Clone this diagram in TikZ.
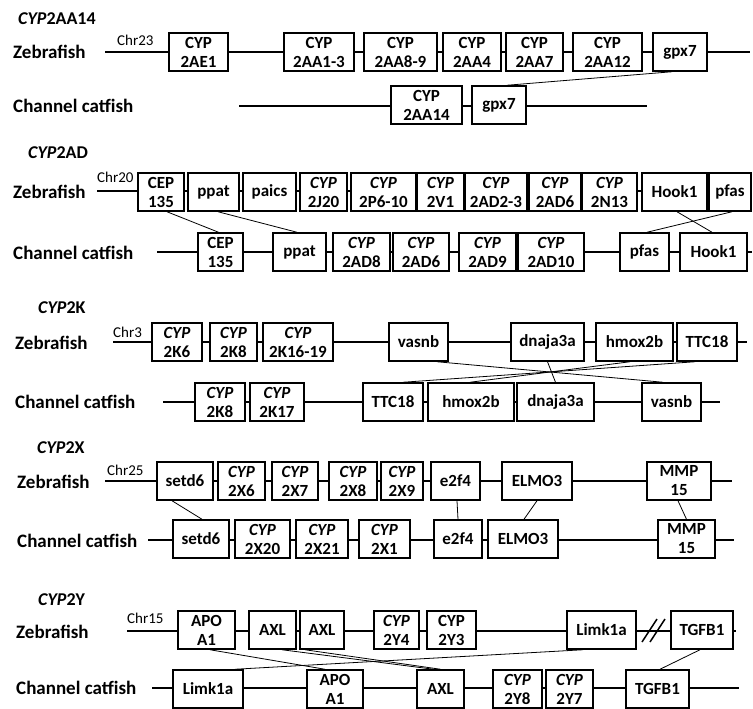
\documentclass[tikz,border=0pt]{standalone}
\usepackage{fontspec}
\setmainfont{Carlito}
\newcommand\cy{\textit{CYP}}
\newcommand\gn[5]{\pgfmathsetmacro\gnw{#3-#2}\pgfmathsetmacro\gnx{(#2+#3)/2}\node[gene,minimum width=\gnw pt] (#1) at (\gnx,#4) {#5};}
\tikzset{
  gene/.style={draw, line width=1.5pt, fill=white, minimum height=38pt, inner sep=0pt, align=center, font=\bfseries\fontsize{17}{19}\selectfont},
  chrom/.style={line width=2.6pt},
  link/.style={line width=0.8pt},
  lab/.style={anchor=west, inner sep=0pt, font=\bfseries\fontsize{19}{22}\selectfont},
  ttl/.style={anchor=west, inner sep=0pt, font=\bfseries\fontsize{18}{21}\selectfont},
  chr/.style={anchor=west, inner sep=0pt, font=\fontsize{15}{18}\selectfont},
  brk/.style={line width=1.5pt}
}
\begin{document}
\begin{tikzpicture}[x=1pt,y=-1pt]
\useasboundingbox (0,0) rectangle (753,709);
% ---------- CYP2AA14 ----------
\node[ttl] (t1) at (18,19) {\textit{CYP}2AA14};
\node[lab] (lz1) at (13,52) {Zebrafish};
\node[lab] (lc1) at (13,106) {Channel catfish};
\node[chr] (chr1) at (117,40) {Chr23};
\coordinate (z1s) at (105,52); \coordinate (z1e) at (750,52);
\coordinate (c1s) at (239,106); \coordinate (c1e) at (647,106);
\draw[chrom] (z1s) -- (z1e);
\draw[chrom] (c1s) -- (c1e);
\gn{zA1}{169}{228}{52}{CYP\\2AE1}
\gn{zA2}{284}{354}{52}{CYP\\2AA1-3}
\gn{zA3}{364}{437}{52}{CYP\\2AA8-9}
\gn{zA4}{443}{501}{52}{CYP\\2AA4}
\gn{zA5}{506}{563}{52}{CYP\\2AA7}
\gn{zA6}{573}{642}{52}{CYP\\2AA12}
\gn{zA7}{653}{707}{52}{gpx7}
\gn{cA1}{391}{462}{105}{CYP\\2AA14}
\gn{cA2}{472}{526}{105}{gpx7}
\draw[link] ([xshift=-8pt]zA7.south) -- ([xshift=8pt]cA2.north);
% ---------- CYP2AD ----------
\node[ttl] (t2) at (28,153) {\textit{CYP}2AD};
\node[lab] (lz2) at (13,192) {Zebrafish};
\node[lab] (lc2) at (13,253) {Channel catfish};
\node[chr] (chr2) at (97,177) {Chr20};
\coordinate (z2s) at (97,191); \coordinate (z2e) at (752,191);
\coordinate (c2s) at (157,252); \coordinate (c2e) at (752,252);
\draw[chrom] (z2s) -- (z2e);
\draw[chrom] (c2s) -- (c2e);
\gn{zB1}{138}{184}{192}{CEP\\135}
\gn{zB2}{188}{239}{192}{ppat}
\gn{zB3}{243}{296}{192}{paics}
\gn{zB4}{300}{347}{192}{\cy\\2J20}
\gn{zB5}{351}{416}{192}{\cy\\2P6-10}
\gn{zB6}{417}{464}{192}{\cy\\2V1}
\gn{zB7}{465}{527}{192}{\cy\\2AD2-3}
\gn{zB8}{529}{581}{192}{\cy\\2AD6}
\gn{zB9}{582}{637}{192}{\cy\\2N13}
\gn{zB10}{642}{707}{192}{Hook1}
\gn{zB11}{709}{751}{192}{pfas}
\gn{cB1}{198}{243}{252}{CEP\\135}
\gn{cB2}{273}{326}{252}{ppat}
\gn{cB3}{333}{390}{252}{\cy\\2AD8}
\gn{cB4}{393}{449}{252}{\cy\\2AD6}
\gn{cB5}{459}{516}{252}{\cy\\2AD9}
\gn{cB6}{518}{584}{252}{\cy\\2AD10}
\gn{cB7}{620}{669}{252}{pfas}
\gn{cB8}{680}{747}{252}{Hook1}
\draw[link] ([xshift=6pt]zB1.south) -- ([xshift=-2pt]cB1.north);
\draw[link] ([xshift=4.5pt]zB2.south) -- ([xshift=-2.5pt]cB2.north);
\draw[link] ([xshift=2.5pt]zB10.south) -- ([xshift=-1.5pt]cB8.north);
\draw[link] ([xshift=2pt]zB11.south) -- ([xshift=2.5pt]cB7.north);
% ---------- CYP2K ----------
\node[ttl] (t3) at (38,308) {\textit{CYP}2K};
\node[lab] (lz3) at (15,343) {Zebrafish};
\node[lab] (lc3) at (15,402) {Channel catfish};
\node[chr] (chr3) at (113,332) {Chr3};
\coordinate (z3s) at (113,342); \coordinate (z3e) at (747,342);
\coordinate (c3s) at (163,402); \coordinate (c3e) at (720,402);
\draw[chrom] (z3s) -- (z3e);
\draw[chrom] (c3s) -- (c3e);
\gn{zC1}{152}{202}{342}{\cy\\2K6}
\gn{zC2}{210}{257}{342}{\cy\\2K8}
\gn{zC3}{263}{333}{342}{\cy\\2K16-19}
\gn{zC4}{389}{448}{342}{vasnb}
\gn{zC5}{511}{584}{342}{dnaja3a}
\gn{zC6}{596}{673}{342}{hmox2b}
\gn{zC7}{677}{737}{342}{TTC18}
\gn{cC1}{195}{245}{402}{\cy\\2K8}
\gn{cC2}{250}{304}{402}{\cy\\2K17}
\gn{cC3}{363}{423}{402}{TTC18}
\gn{cC4}{428}{514}{402}{hmox2b}
\gn{cC5}{517}{594}{402}{dnaja3a}
\gn{cC6}{642}{701}{402}{vasnb}
\draw[link] ([xshift=18.5pt]zC4.south) -- ([xshift=-8.5pt]cC6.north);
\draw[link] (zC5.south) -- (cC5.north);
\draw[link] ([xshift=-4.5pt]zC6.south) -- ([xshift=-1pt]cC4.north);
\draw[link] ([xshift=-12pt]zC7.south) -- ([xshift=10pt]cC3.north);
% ---------- CYP2X ----------
\node[ttl] (t4) at (37,448) {\textit{CYP}2X};
\node[lab] (lz4) at (17,482) {Zebrafish};
\node[lab] (lc4) at (17,541) {Channel catfish};
\node[chr] (chr4) at (107,470) {Chr25};
\coordinate (z4s) at (105,481); \coordinate (z4e) at (732,481);
\coordinate (c4s) at (148,540); \coordinate (c4e) at (734,540);
\draw[chrom] (z4s) -- (z4e);
\draw[chrom] (c4s) -- (c4e);
\gn{zD1}{157}{213}{481}{setd6}
\gn{zD2}{218}{265}{481}{\cy\\2X6}
\gn{zD3}{272}{318}{481}{\cy\\2X7}
\gn{zD4}{329}{377}{481}{\cy\\2X8}
\gn{zD5}{381}{423}{481}{\cy\\2X9}
\gn{zD6}{431}{480}{481}{e2f4}
\gn{zD7}{502}{572}{481}{ELMO3}
\gn{zD8}{647}{711}{481}{MMP\\15}
\gn{cD1}{173}{229}{539}{setd6}
\gn{cD2}{235}{290}{539}{\cy\\2X20}
\gn{cD3}{296}{348}{539}{\cy\\2X21}
\gn{cD4}{359}{410}{539}{\cy\\2X1}
\gn{cD5}{434}{482}{539}{e2f4}
\gn{cD6}{488}{558}{539}{ELMO3}
\gn{cD7}{658}{715}{539}{MMP\\15}
\draw[link] ([xshift=-13pt]zD1.south) -- ([xshift=1pt]cD1.north);
\draw[link] ([xshift=1.5pt]zD6.south) -- (cD5.north);
\draw[link] (zD7.south) -- ([xshift=1pt]cD6.north);
\draw[link] ([xshift=-1pt]zD8.south) -- (cD7.north);
% ---------- CYP2Y ----------
\node[ttl] (t5) at (38,600) {\textit{CYP}2Y};
\node[lab] (lz5) at (16,632) {Zebrafish};
\node[lab] (lc5) at (16,688) {Channel catfish};
\node[chr] (chr5) at (127,618) {Chr15};
\coordinate (z5s) at (127,631); \coordinate (z5e) at (736,631);
\coordinate (c5s) at (152,688); \coordinate (c5e) at (739,688);
\draw[chrom] (z5s) -- (z5e);
\draw[chrom] (c5s) -- (c5e);
\draw[brk] (642,642) -- (657,619);
\draw[brk] (650,642) -- (665,619);
\gn{zE1}{178}{235}{630}{APO\\A1}
\gn{zE2}{249}{296}{630}{AXL}
\gn{zE3}{300}{344}{630}{AXL}
\gn{zE4}{374}{419}{630}{\cy\\2Y4}
\gn{zE5}{427}{476}{630}{CYP\\2Y3}
\gn{zE6}{567}{636}{630}{Limk1a}
\gn{zE7}{671}{733}{630}{TGFB1}
\gn{cE1}{173}{243}{689}{Limk1a}
\gn{cE2}{307}{363}{689}{APO\\A1}
\gn{cE3}{417}{464}{689}{AXL}
\gn{cE4}{493}{542}{689}{\cy\\2Y8}
\gn{cE5}{546}{593}{689}{\cy\\2Y7}
\gn{cE6}{626}{689}{689}{TGFB1}
\draw[link] ([xshift=3.5pt]zE1.south) -- ([xshift=-10pt]cE2.north);
\draw[link] ([xshift=9.5pt]zE2.south) -- ([xshift=-7pt]cE3.north);
\draw[link] ([xshift=-17pt]zE3.south) -- (cE3.north);
\draw[link] ([xshift=-18.5pt]zE6.south) -- ([xshift=27pt]cE1.north);
\draw[link] ([xshift=-2pt]zE7.south) -- ([xshift=2.5pt]cE6.north);
\end{tikzpicture}
\end{document}
